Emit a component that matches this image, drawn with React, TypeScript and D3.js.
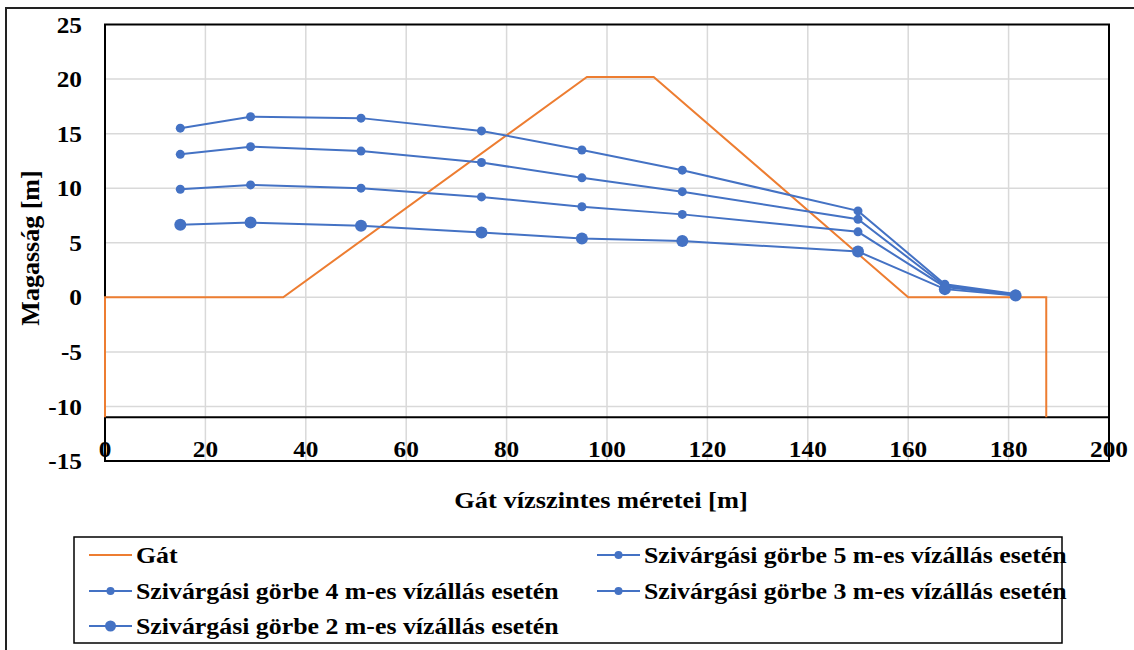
import React from "react";
import * as d3 from "d3";

// Horizontal positions of the measured points [m]
const seepX = [15, 29, 51, 75, 95, 115, 150, 167.3, 181.4];

// Seepage curves for different water levels [m]
const seep5 = [15.5, 16.55, 16.42, 15.25, 13.5, 11.65, 7.92, 1.2, 0.3];
const seep4 = [13.1, 13.8, 13.4, 12.35, 10.95, 9.68, 7.15, 1.05, 0.25];
const seep3 = [9.9, 10.3, 10.0, 9.2, 8.3, 7.6, 6.0, 0.95, 0.2];
const seep2 = [6.65, 6.85, 6.55, 5.95, 5.38, 5.15, 4.2, 0.75, 0.17];

// Dam cross-section outline
const damX = [0, 0, 35.5, 96, 109.3, 160, 187.5, 187.5];
const damY = [-11, 0, 0, 20.2, 20.2, 0, 0, -11];

const xTicks = [0, 20, 40, 60, 80, 100, 120, 140, 160, 180, 200];
const yTicks = [25, 20, 15, 10, 5, 0, -5, -10, -15];

const seriesNames = [
  "Gát",
  "Szivárgási görbe 5 m-es vízállás esetén",
  "Szivárgási görbe 4 m-es vízállás esetén",
  "Szivárgási görbe 3 m-es vízállás esetén",
  "Szivárgási görbe 2 m-es vízállás esetén",
];

const BLUE = "#4472C4";
const ORANGE = "#ED7D31";
const GRID = "#D9D9D9";
const FONT = "'Liberation Serif', 'Times New Roman', serif";

const x = d3.scaleLinear().domain([0, 200]).range([105, 1109]);
const y = d3.scaleLinear().domain([-15, 25]).range([461, 24.5]);

const line = d3
  .line<[number, number]>()
  .x((d) => x(d[0]))
  .y((d) => y(d[1]));

function Label({
  px,
  py,
  anchor,
  size,
  rotate = 0,
  children,
}: {
  px: number;
  py: number;
  anchor: "start" | "middle" | "end";
  size: number;
  rotate?: number;
  children: React.ReactNode;
}) {
  return (
    <text
      transform={`translate(${px},${py}) rotate(${rotate}) scale(1.1,1)`}
      textAnchor={anchor}
      dominantBaseline="central"
      fontFamily={FONT}
      fontWeight="bold"
      fontSize={size}
      fill="#000"
    >
      {children}
    </text>
  );
}

export default function App() {
  const seepSeries = [
    { name: seriesNames[1], values: seep5, r: 4.5 },
    { name: seriesNames[2], values: seep4, r: 4.5 },
    { name: seriesNames[3], values: seep3, r: 4.5 },
    { name: seriesNames[4], values: seep2, r: 6 },
  ];
  const damPts = damX.map((v, i) => [v, damY[i]] as [number, number]);

  const legendItems = [
    { name: seriesNames[0], col: 0, row: 0, color: ORANGE, r: 0 },
    { name: seriesNames[1], col: 1, row: 0, color: BLUE, r: 4 },
    { name: seriesNames[2], col: 0, row: 1, color: BLUE, r: 4 },
    { name: seriesNames[3], col: 1, row: 1, color: BLUE, r: 4 },
    { name: seriesNames[4], col: 0, row: 2, color: BLUE, r: 5.5 },
  ];
  const legCols = [89, 597];
  const legRows = [555, 591, 626];

  return (
    <div style={{ position: "fixed", left: 0, top: 0 }}>
      <svg width={1134} height={650} style={{ display: "block", background: "#fff" }}>
        {/* outer chart border */}
        <rect x={6} y={8} width={1140} height={660} fill="none" stroke="#222" strokeWidth={2} />

        {/* grid */}
        {xTicks
          .filter((t) => t > 0 && t < 200)
          .map((t) => (
            <line key={"gx" + t} x1={x(t)} x2={x(t)} y1={y(25)} y2={y(-15)} stroke={GRID} strokeWidth={1.5} />
          ))}
        {yTicks
          .filter((t) => t > -15 && t < 25)
          .map((t) => (
            <line key={"gy" + t} x1={x(0)} x2={x(200)} y1={y(t)} y2={y(t)} stroke={GRID} strokeWidth={1.5} />
          ))}

        {/* plot frame and axes */}
        <rect x={x(0)} y={y(25)} width={x(200) - x(0)} height={y(-15) - y(25)} fill="none" stroke="#000" strokeWidth={2} />
        <line x1={x(0)} x2={x(200)} y1={y(-11)} y2={y(-11)} stroke="#000" strokeWidth={2} />

        {/* dam outline */}
        <path d={line(damPts) || ""} fill="none" stroke={ORANGE} strokeWidth={2} />

        {/* seepage curves */}
        {seepSeries.map((s) => {
          const pts = seepX.map((v, i) => [v, s.values[i]] as [number, number]);
          return (
            <g key={s.name}>
              <path d={line(pts) || ""} fill="none" stroke={BLUE} strokeWidth={2} />
              {pts.map((p, i) => (
                <circle key={i} cx={x(p[0])} cy={y(p[1])} r={s.r} fill={BLUE} />
              ))}
            </g>
          );
        })}

        {/* tick labels */}
        {yTicks.map((t) => (
          <Label key={"yl" + t} px={82} py={y(t)} anchor="end" size={23}>
            {t}
          </Label>
        ))}
        {xTicks.map((t) => (
          <Label key={"xl" + t} px={x(t)} py={449} anchor="middle" size={23}>
            {t}
          </Label>
        ))}

        {/* axis titles */}
        <Label px={601} py={500} anchor="middle" size={24}>
          Gát vízszintes méretei [m]
        </Label>
        <text
          transform={`translate(30,248) rotate(-90)`}
          textAnchor="middle"
          dominantBaseline="central"
          fontFamily={FONT}
          fontWeight="bold"
          fontSize={26}
        >
          Magasság [m]
        </text>

        {/* legend */}
        <rect x={74} y={537} width={988} height={106} fill="#fff" stroke="#000" strokeWidth={1.5} />
        {legendItems.map((it) => {
          const lx = legCols[it.col];
          const ly = legRows[it.row];
          return (
            <g key={it.name}>
              <line x1={lx} x2={lx + 43} y1={ly} y2={ly} stroke={it.color} strokeWidth={2} />
              {it.r > 0 && <circle cx={lx + 21.5} cy={ly} r={it.r} fill={it.color} />}
              <Label px={lx + 47} py={ly} anchor="start" size={23.5}>
                {it.name}
              </Label>
            </g>
          );
        })}
      </svg>
    </div>
  );
}
